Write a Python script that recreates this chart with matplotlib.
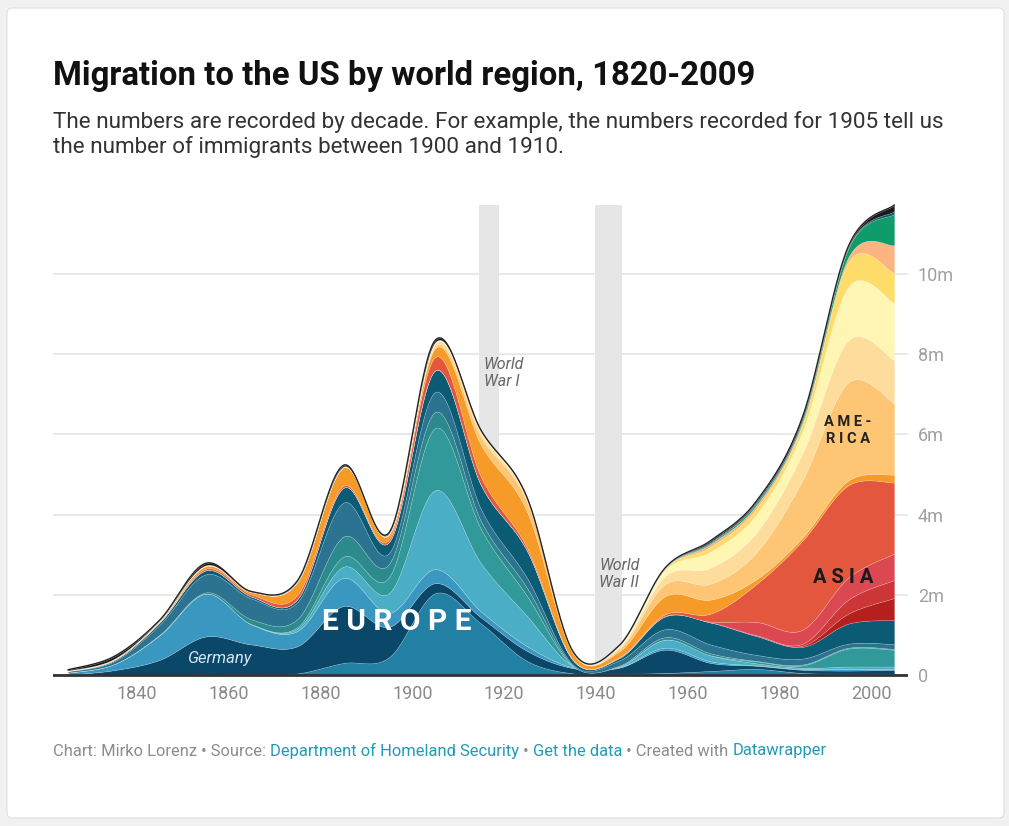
import numpy as np
import matplotlib
matplotlib.use('Agg')
import matplotlib.pyplot as plt
from matplotlib.patches import FancyBboxPatch

plt.rcParams['font.family'] = ['Roboto', 'DejaVu Sans']

# decade midpoints, values in millions of immigrants
years = [1825, 1835, 1845, 1855, 1865, 1875, 1885, 1895, 1905, 1915,
         1925, 1935, 1945, 1955, 1965, 1975, 1985, 1995, 2005]

# Europe
italy = [0, 0, 0, 0.01, 0.01, 0.04, 0.3, 0.45, 2.04, 1.28,
         0.35, 0.04, 0.03, 0.05, 0.1, 0.15, 0.05, 0.03, 0.03]
germany = [0.01, 0.12, 0.38, 0.95, 0.75, 0.68, 1.42, 0.75, 0.25, 0.15,
           0.25, 0.13, 0.15, 0.58, 0.2, 0.08, 0.08, 0.08, 0.1]
ireland = [0.05, 0.15, 0.62, 1.07, 0.5, 0.38, 0.7, 0.35, 0.35, 0.15,
           0.12, 0.02, 0.01, 0.05, 0.04, 0.01, 0.02, 0.04, 0.02]
austria_hungary = [0, 0, 0, 0, 0.005, 0.06, 0.28, 0.5, 1.97, 1.2,
                   0.75, 0.03, 0.02, 0.2, 0.15, 0.05, 0.03, 0.06, 0.06]
russia = [0, 0, 0, 0, 0, 0.04, 0.25, 0.4, 1.55, 0.85,
          0.5, 0, 0, 0, 0, 0.05, 0.06, 0.45, 0.42]
scandinavia = [0, 0, 0.01, 0.03, 0.12, 0.2, 0.5, 0.33, 0.4, 0.2,
               0.2, 0.01, 0.02, 0.06, 0.05, 0.01, 0.02, 0.02, 0.02]
uk = [0.03, 0.07, 0.25, 0.45, 0.52, 0.42, 0.85, 0.27, 0.5, 0.3,
      0.25, 0.03, 0.13, 0.2, 0.22, 0.15, 0.15, 0.1, 0.12]
other_europe = [0.01, 0.03, 0.06, 0.1, 0.05, 0.08, 0.37, 0.28, 0.54, 0.6,
                0.68, 0.11, 0.06, 0.32, 0.55, 0.47, 0.29, 0.5, 0.6]

# Asia
asia_1 = [0, 0, 0, 0, 0, 0, 0, 0, 0, 0,
          0, 0, 0, 0, 0, 0, 0.03, 0.25, 0.55]
asia_2 = [0, 0, 0, 0, 0, 0, 0, 0, 0, 0,
          0, 0, 0, 0, 0, 0.02, 0.05, 0.35, 0.45]
asia_3 = [0, 0, 0, 0, 0, 0, 0, 0, 0, 0,
          0, 0, 0.01, 0.01, 0.02, 0.33, 0.35, 0.55, 0.66]
asia_4 = [0, 0, 0, 0.04, 0.05, 0.1, 0.05, 0.06, 0.33, 0.2,
          0.07, 0.01, 0.01, 0.04, 0.2, 0.95, 2.22, 2.3, 1.77]

# America
canada = [0.005, 0.015, 0.03, 0.06, 0.06, 0.32, 0.45, 0.12, 0.22, 0.8,
          0.9, 0.16, 0.14, 0.45, 0.35, 0.12, 0.08, 0.12, 0.2]
mexico = [0, 0.005, 0.003, 0.005, 0, 0.005, 0.01, 0.01, 0.05, 0.2,
          0.25, 0.02, 0.06, 0.3, 0.4, 0.67, 1.43, 2.45, 1.78]
caribbean = [0.005, 0.01, 0.01, 0.01, 0.01, 0.01, 0.01, 0.02, 0.07, 0.1,
             0.05, 0.02, 0.04, 0.2, 0.4, 0.5, 0.67, 1.05, 1.07]
central_america = [0, 0, 0, 0.01, 0, 0, 0, 0, 0.03, 0.05,
                   0.03, 0.01, 0.03, 0.15, 0.4, 0.45, 0.55, 1.33, 1.42]
south_america = [0, 0, 0, 0, 0, 0, 0, 0, 0, 0,
                 0.01, 0, 0.01, 0.03, 0.12, 0.15, 0.17, 0.62, 0.75]
other_america = [0, 0, 0, 0, 0, 0, 0, 0, 0, 0,
                 0, 0, 0, 0.01, 0.07, 0.08, 0.05, 0.12, 0.7]

# rest
africa = [0, 0, 0, 0, 0, 0, 0, 0, 0, 0,
          0, 0, 0.005, 0.01, 0.03, 0.05, 0.06, 0.22, 0.78]
oceania = [0, 0, 0, 0, 0, 0.01, 0.01, 0, 0, 0,
           0, 0, 0, 0, 0.02, 0.02, 0.02, 0.02, 0.07]
not_specified = [0.02, 0.06, 0.01, 0.05, 0.005, 0.01, 0.03, 0.02, 0.05, 0.02,
                 0.02, 0, 0, 0, 0.03, 0.03, 0.05, 0.03, 0.15]

layers = [italy, germany, ireland, austria_hungary, russia, scandinavia, uk, other_europe,
          asia_1, asia_2, asia_3, asia_4,
          canada, mexico, caribbean, central_america, south_america, other_america,
          africa, oceania, not_specified]
colors = ['#2280a4', '#0b4768', '#3a97c0', '#4aaec7', '#32999a', '#2c8a8c', '#2b7390', '#0c5b74',
          '#b3201e', '#cc3636', '#dc4852', '#e4573f',
          '#f79b28', '#fdc574', '#fddc9c', '#fff6b4', '#fedc6a', '#fbb482',
          '#0f9b6a', '#0c5a70', '#1a1a1a']

wars = [('World\nWar I', 1914.5, 1918.9), ('World\nWar II', 1939.8, 1945.8)]
ytick_vals = [0, 2, 4, 6, 8, 10]
ytick_labels = ['0', '2m', '4m', '6m', '8m', '10m']
xtick_vals = [1840, 1860, 1880, 1900, 1920, 1940, 1960, 1980, 2000]


def catmull(vals, steps=30):
    # uniform catmull-rom, like the smooth curves in the original
    v = np.asarray(vals, float)
    p = np.concatenate([[v[0]], v, [v[-1]]])
    m = (p[2:] - p[:-2]) / 2
    t = np.linspace(0, 1, steps, endpoint=False)[:, None]
    h00 = 2 * t**3 - 3 * t**2 + 1
    h10 = t**3 - 2 * t**2 + t
    h01 = -2 * t**3 + 3 * t**2
    h11 = t**3 - t**2
    seg = h00 * v[:-1] + h10 * m[:-1] + h01 * v[1:] + h11 * m[1:]
    return np.append(seg.T.ravel(), v[-1])


W, H = 1009, 826
fig = plt.figure(figsize=(W / 100, H / 100), dpi=100)
fig.patch.set_facecolor('#f1f1f1')
card = FancyBboxPatch((7 / W, 1 - 818 / H), 997 / W, 810 / H,
                      boxstyle='round,pad=0,rounding_size=0.006',
                      transform=fig.transFigure, fc='white', ec='#e0e0e0', lw=0.8, zorder=-5)
fig.patches.append(card)

ax = fig.add_axes([53 / W, (826 - 683) / H, 855 / W, 489.2 / H])
ax.patch.set_alpha(0)
ax.set_xlim(1821.73, 2008.0)
ax.set_ylim(-0.2, 12.0)

xf = catmull(years)
smooth = [catmull(l) for l in layers]
ax.stackplot(xf, *smooth, colors=colors, edgecolor=(1, 1, 1, 0.25), linewidth=0.4, zorder=2)
ax.plot(xf, np.sum(smooth, axis=0), color='#222222', lw=1.0, zorder=3)

for label, x0, x1 in wars:
    ax.fill_between([x0, x1], 0, 11.72, color='#e6e6e6', lw=0, zorder=1)

ax.axhline(0, color='#333333', lw=2, zorder=5)
ax.set_yticks(ytick_vals)
ax.set_yticklabels(ytick_labels)
ax.yaxis.tick_right()
ax.set_xticks(xtick_vals)
ax.grid(axis='y', color='#e5e5e5', lw=1.2, zorder=0)
ax.set_axisbelow(True)
ax.tick_params(axis='y', length=0, pad=7, labelsize=13, labelcolor='#a0a0a0')
ax.tick_params(axis='x', length=0, pad=1.5, labelsize=13, labelcolor='#8a8a8a')
for s in ax.spines.values():
    s.set_visible(False)

# annotations
ax.text(1915.6, 7.53, wars[0][0], style='italic', color='#666666', fontsize=11.5,
        ha='left', va='center', linespacing=1.15, zorder=6)
ax.text(1940.7, 2.52, wars[1][0], style='italic', color='#666666', fontsize=11.5,
        ha='left', va='center', linespacing=1.15, zorder=6)
ax.text(1857.9, 0.4, 'Germany', style='italic', color='#d5e5ee', fontsize=12,
        ha='center', va='center', zorder=6)
ax.text(1896.7, 1.32, 'E U R O P E', weight='bold', color='white', fontsize=21.5,
        ha='center', va='center', zorder=6)
ax.text(1994.9, 6.1, 'A M E -\nR I C A', weight='bold', color='#222222', fontsize=10.5,
        ha='center', va='center', linespacing=1.25, zorder=6)
ax.text(1993.8, 2.44, 'A S I A', weight='bold', color='#1a1a1a', fontsize=14.5,
        ha='center', va='center', zorder=6)

# title / subtitle
fig.text(53 / W, 1 - 76 / H, 'Migration to the US by world region, 1820-2009',
         weight='bold', fontsize=23.7, color='#111111', va='center', ha='left')
fig.text(53 / W, 1 - 134.5 / H,
         'The numbers are recorded by decade. For example, the numbers recorded for 1905 tell us\n'
         'the number of immigrants between 1900 and 1910.',
         fontsize=16.2, color='#333333', va='center', ha='left', linespacing=1.15)

# footer, pieces in two colours
gray, link = '#8c8c8c', '#1f9bb8'
pieces = [('Chart: Mirko Lorenz • Source: ', gray), ('Department of Homeland Security', link),
          (' • ', gray), ('Get the data', link), (' • Created with ', gray), ('Datawrapper', link)]
renderer = fig.canvas.get_renderer()
x = 53 / W
for txt, c in pieces:
    t = fig.text(x, 1 - 751 / H, txt, fontsize=11.9, color=c, va='center', ha='left')
    bb = t.get_window_extent(renderer=renderer)
    x += bb.width / W

fig.savefig('out.png', dpi=100)
